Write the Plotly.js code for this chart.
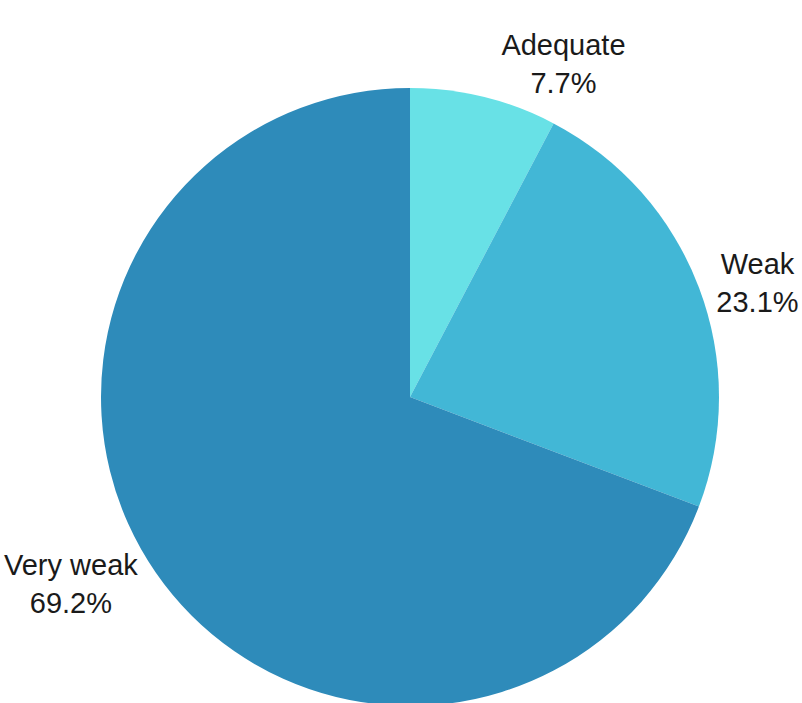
<!DOCTYPE html>
<html>
<head>
<meta charset="utf-8">
<script src="https://cdn.plot.ly/plotly-3.0.1.min.js"></script>
<style>html,body{margin:0;padding:0;overflow:hidden;background:#fff;}</style>
</head>
<body>
<div id="chart" style="width:802px;height:710px;"></div>
<script>
const categories = ["Adequate", "Weak", "Very weak"];
const counts = [1, 3, 9];
const colors = ["#68E1E6", "#42B7D6", "#2E8BBA"];

Plotly.newPlot("chart", [{
  type: "pie",
  labels: categories,
  values: counts,
  sort: false,
  direction: "clockwise",
  rotation: 0,
  marker: {colors: colors, line: {width: 0}},
  texttemplate: "%{label}<br>%{percent:.1%}",
  textposition: "outside",
  outsidetextfont: {size: 29, color: "#1a1a1a", family: "Liberation Sans, Arial, sans-serif"},
  automargin: false,
  hoverinfo: "label+percent"
}], {
  width: 802,
  height: 710,
  showlegend: false,
  margin: {l: 101, r: 83, t: 88, b: 4},
  paper_bgcolor: "#ffffff",
  font: {family: "Liberation Sans, Arial, sans-serif", size: 29, color: "#1a1a1a"}
}, {displayModeBar: false, staticPlot: true});
</script>
</body>
</html>
